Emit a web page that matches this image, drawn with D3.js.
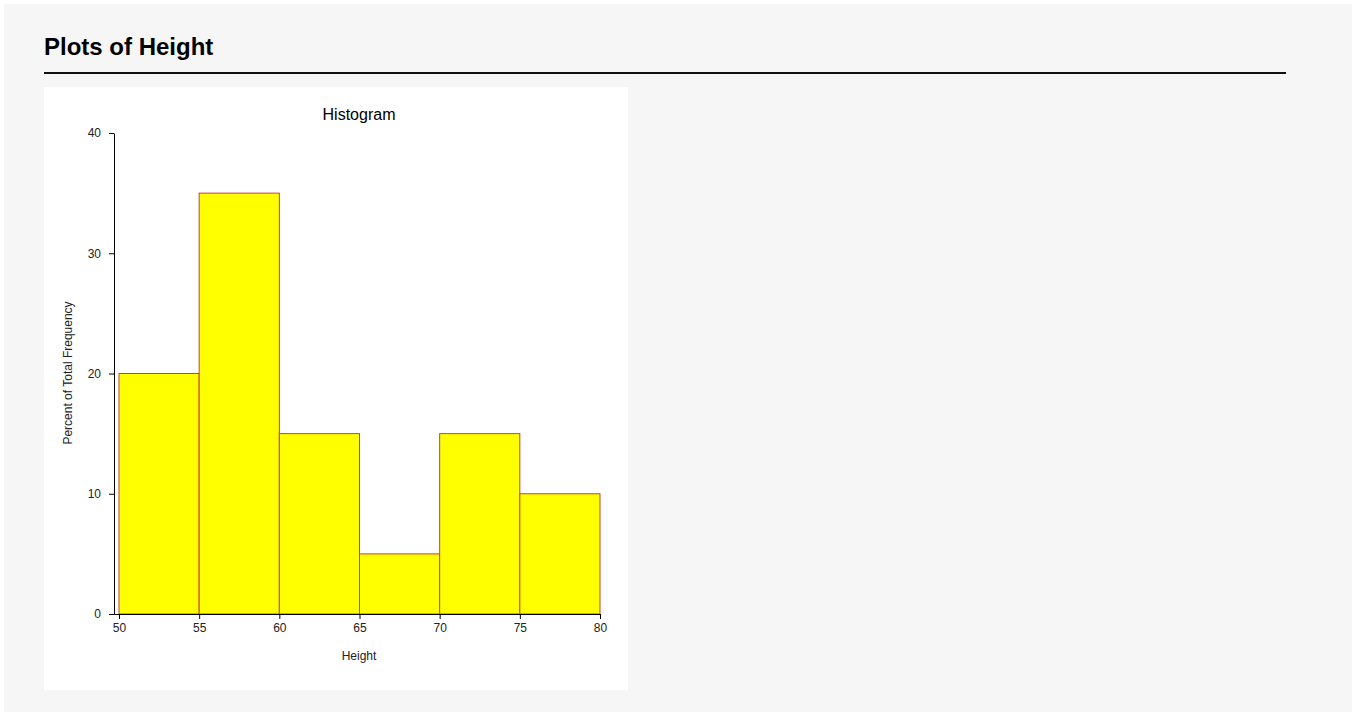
<!DOCTYPE html>
<html>
<head>
<meta charset="utf-8">
<script src="https://cdn.jsdelivr.net/npm/d3@7"></script>
<style>
  html, body { margin: 0; padding: 0; background: #fff; }
  #page {
    position: absolute; left: 4px; top: 4px; width: 1348px; height: 708px;
    background: #f6f6f6;
  }
  svg { position: absolute; left: 0; top: 0; }
</style>
</head>
<body>
<div id="page"></div>
<script>
// Histogram bins (lower edge, upper edge) and percent of total frequency
const binStarts = [50, 55, 60, 65, 70, 75];
const binEnds = [55, 60, 65, 70, 75, 80];
const percents = [20, 35, 15, 5, 15, 10];
const xTicks = [50, 55, 60, 65, 70, 75, 80];
const yTicks = [0, 10, 20, 30, 40];

const font = "Arial, 'Liberation Sans', sans-serif";

const svg = d3.select("#page")
    .append("svg")
    .attr("width", 1348)
    .attr("height", 708);

// page heading + rule
svg.append("text")
    .attr("x", 40)
    .attr("y", 51)
    .text("Plots of Height")
    .style("font-family", font)
    .style("font-size", "24px")
    .style("font-weight", "bold")
    .attr("fill", "#000");

svg.append("line")
    .attr("x1", 40).attr("x2", 1282)
    .attr("y1", 69).attr("y2", 69)
    .attr("stroke", "#111")
    .attr("stroke-width", 2);

// white plot panel
const panel = svg.append("g").attr("transform", "translate(40, 83)");
panel.append("rect")
    .attr("width", 584)
    .attr("height", 603)
    .attr("fill", "#fff");

// scales (panel coords)
const x = d3.scaleLinear().domain([50, 80]).range([75, 556]);
const y = d3.scaleLinear().domain([0, 40]).range([527, 46]);
const axisX = 70;

// bars
panel.selectAll("rect.bar")
    .data(percents)
    .join("rect")
    .attr("class", "bar")
    .attr("x", (d, i) => x(binStarts[i]))
    .attr("y", d => y(d))
    .attr("width", (d, i) => x(binEnds[i]) - x(binStarts[i]))
    .attr("height", d => y(0) - y(d))
    .attr("fill", "#ffff00")
    .attr("stroke", "#c8403c")
    .attr("stroke-width", 1);

// y axis
const yAxis = panel.append("g")
    .attr("transform", `translate(${axisX},0)`)
    .call(d3.axisLeft(y).tickValues(yTicks).tickSize(5).tickPadding(8).tickSizeOuter(0));

// x axis
const xAxis = panel.append("g")
    .attr("transform", `translate(0,${y(0)})`)
    .call(d3.axisBottom(x).tickValues(xTicks).tickSize(5).tickPadding(4).tickSizeOuter(0));

// extend x axis line to meet the y axis
xAxis.select(".domain").attr("d", `M${axisX - 5},0.5H${x(80)}`);

[xAxis, yAxis].forEach(a => {
    a.selectAll("text")
        .style("font-family", font)
        .style("font-size", "12px")
        .attr("fill", "#222");
    a.selectAll("line, path").attr("stroke", "#000");
});

// titles
panel.append("text")
    .attr("x", 315)
    .attr("y", 33)
    .attr("text-anchor", "middle")
    .text("Histogram")
    .style("font-family", font)
    .style("font-size", "16px")
    .attr("fill", "#000");

panel.append("text")
    .attr("x", 315)
    .attr("y", 573)
    .attr("text-anchor", "middle")
    .text("Height")
    .style("font-family", font)
    .style("font-size", "12px")
    .attr("fill", "#222");

panel.append("text")
    .attr("transform", `translate(28, ${286}) rotate(-90)`)
    .attr("text-anchor", "middle")
    .text("Percent of Total Frequency")
    .style("font-family", font)
    .style("font-size", "12px")
    .attr("fill", "#222");
</script>
</body>
</html>
